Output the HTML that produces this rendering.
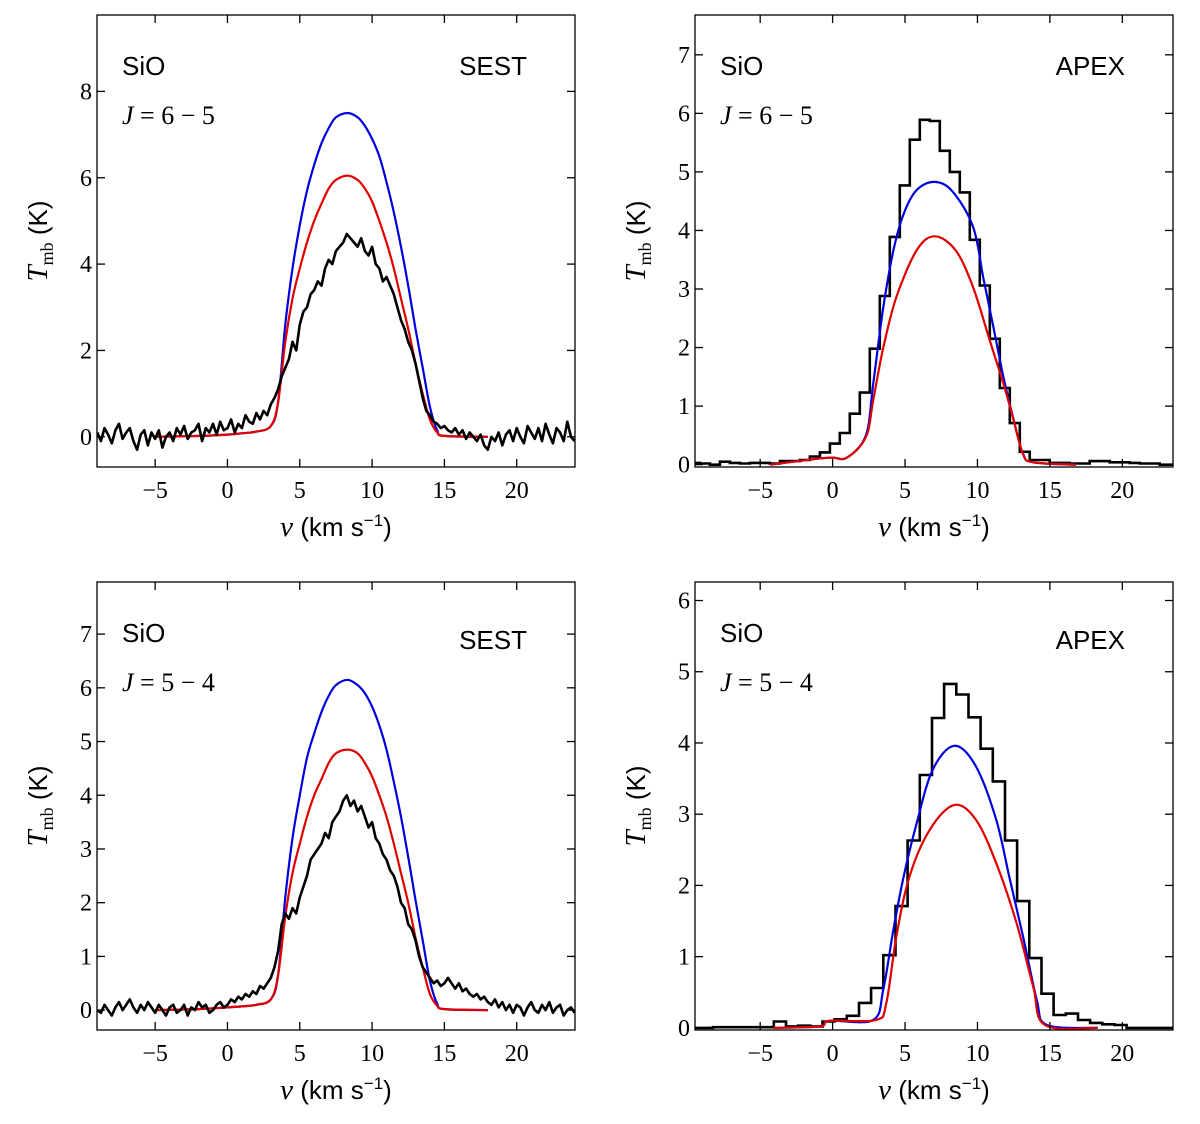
<!DOCTYPE html>
<html><head><meta charset="utf-8"><style>
body{margin:0;background:#fff}
svg{display:block}
.tl{font-family:"Liberation Serif",serif;font-size:24px;fill:#000}
.ss{font-family:"Liberation Sans",sans-serif;font-size:26px;fill:#000}
.it{font-family:"Liberation Serif",serif;font-size:26px;font-style:italic;fill:#000}
</style></head><body>
<svg id="fig" width="1200" height="1124" viewBox="0 0 1200 1124" xmlns="http://www.w3.org/2000/svg"></svg>
<script>
// ---- data arrays ----
const tlSpec = [0.1,-0.1,0.2,0.05,-0.15,0.15,0.3,-0.05,0.1,0.2,-0.1,-0.3,0.05,0.15,-0.2,0.1,-0.05,
0.15,-0.25,0.0,0.1,-0.1,0.2,0.05,0.25,-0.05,0.1,0.15,0.3,-0.1,0.2,0.1,0.3,0.05,0.35,0.15,0.2,
0.4,0.1,0.3,0.2,0.5,0.35,0.3,0.55,0.4,0.6,0.5,0.75,
0.9,1.1,1.4,1.6,1.8,2.2,2.0,2.6,2.9,3.0,3.3,3.4,
3.6,3.5,3.9,4.1,4.0,4.3,4.4,4.5,4.7,4.6,4.5,4.4,
4.6,4.3,4.2,4.4,4.0,3.9,3.6,3.7,3.5,3.3,3.0,2.7,
2.5,2.2,2.0,1.7,1.3,0.9,0.6,0.5,0.35,0.3,0.2,0.25,
0.15,0.1,0.2,0.05,0.15,-0.05,0.1,0.0,-0.1,0.05,-0.2,-0.3,
0.0,-0.1,0.1,-0.2,0.05,0.15,-0.1,0.2,0.0,-0.15,0.25,0.1,-0.05,0.2,-0.1,0.3,0.05,-0.15,0.2,0.1,-0.1,0.35,0.0,-0.1];
const blSpec = [0.0,-0.05,0.1,0.0,-0.1,0.05,0.15,0.0,0.1,0.2,0.05,-0.05,0.1,0.0,0.15,0.05,-0.05,0.1,0.0,-0.1,0.05,0.1,-0.05,0.0,0.1,-0.1,0.05,0.0,0.15,0.05,0.1,-0.05,0.0,0.1,0.15,0.05,0.1,
0.2,0.15,0.25,0.2,0.3,0.25,0.35,0.3,0.45,0.4,0.5,0.6,
0.8,1.1,1.6,1.8,1.7,1.9,1.8,2.1,2.3,2.5,2.8,2.9,
3.0,3.1,3.3,3.2,3.5,3.6,3.7,3.9,4.0,3.8,3.9,3.7,
3.8,3.6,3.4,3.5,3.2,3.1,2.9,2.8,2.6,2.5,2.3,2.0,
1.9,1.6,1.5,1.3,1.0,0.8,0.7,0.6,0.5,0.55,0.45,0.5,
0.6,0.5,0.4,0.5,0.35,0.4,0.3,0.25,0.3,0.2,0.25,0.15,
0.1,0.2,0.05,0.15,0.0,0.1,-0.05,0.1,0.05,-0.1,0.05,0.15,0.0,-0.05,0.1,0.0,0.15,-0.05,0.05,0.1,-0.1,0.0,0.05,-0.05];
const specStart = -9, specStep = 0.25;

const tlBlueV = [-5,-2,0,1,2,3,3.5,4,4.5,5,5.5,6,6.5,7,7.5,8.3,9,9.5,10,10.5,11,11.5,12,12.5,13,13.5,14,14.5,15,18];
const tlBlueT = [0,0.02,0.05,0.08,0.12,0.25,0.8,2.6,3.9,4.9,5.7,6.3,6.8,7.15,7.4,7.5,7.4,7.2,6.9,6.5,5.9,5.2,4.4,3.5,2.5,1.6,0.7,0.15,0.02,0];
const tlRedV = [-5,-2,0,1,2,3,3.5,4,4.5,5,5.5,6,6.5,7,7.5,8.3,9,9.5,10,10.5,11,11.5,12,12.5,13,13.5,14,14.5,15,18];
const tlRedT = [0,0.02,0.05,0.08,0.12,0.25,0.8,2.2,3.2,3.9,4.5,5.0,5.4,5.75,5.95,6.05,5.95,5.75,5.45,5.0,4.5,3.9,3.2,2.5,1.7,1.0,0.4,0.1,0.02,0];
const blBlueT = [0,0.02,0.05,0.07,0.1,0.2,0.65,2.1,3.2,4.0,4.7,5.15,5.55,5.85,6.05,6.15,6.05,5.9,5.65,5.3,4.85,4.25,3.6,2.85,2.05,1.3,0.55,0.12,0.02,0];
const blRedT = [0,0.02,0.05,0.07,0.1,0.2,0.65,1.75,2.55,3.1,3.6,4.0,4.3,4.6,4.78,4.85,4.78,4.6,4.35,4.0,3.6,3.1,2.55,2.0,1.35,0.8,0.3,0.08,0.02,0];

const trHist = [0.03,0.02,0.0,0.05,0.03,0.02,0.03,0.03,0.02,0.06,0.06,0.08,0.14,0.21,0.36,0.54,0.87,1.23,1.98,2.88,3.89,4.77,5.55,5.89,5.87,5.36,5.0,4.65,3.84,3.06,2.15,1.31,0.71,0.22,0.08,0.08,0.03,0.03,0.02,0.02,0.06,0.06,0.04,0.04,0.03,0.02,0.02,0.0,0.0];
const trHistStart = -9.85, trHistStep = 0.69;
const trBlueV = [-4.3,-1.1,0,1,2.3,2.8,3.5,4.2,4.9,5.8,7.05,8.3,9.7,10.4,11.1,11.8,12.5,13.15,13.85,16.8];
const trBlueT = [0,0.1,0.12,0.12,0.5,1.38,2.69,3.66,4.28,4.69,4.83,4.66,4.06,3.2,2.35,1.49,0.76,0.18,0.04,0];
const trRedV = [-4.3,-1.1,0,1,2.3,2.8,3.5,4.4,5.8,7.05,8.5,9.7,10.85,11.8,12.5,13.15,13.85,16.8];
const trRedT = [0,0.1,0.12,0.12,0.47,1.1,2.0,2.86,3.66,3.9,3.66,3.03,2.12,1.38,0.76,0.18,0.04,0];

const brHist = [0,0,0.01,0.01,0.01,0.01,0.01,0.09,0.02,0.03,0.02,0.09,0.12,0.17,0.35,0.56,1.02,1.71,2.63,3.55,4.35,4.83,4.68,4.36,3.92,3.46,2.63,1.78,0.98,0.48,0.18,0.2,0.11,0.07,0.05,0.04,0,0,0,0];
const brHistStart = -9.94, brHistStep = 0.84;
const brBlueV = [-4.1,-0.9,-0.2,2.8,3.5,4.2,4.9,5.8,6.9,8.4,9.9,11.3,12.2,13.15,14.1,14.8,18.3];
const brBlueT = [0,0.02,0.1,0.11,0.54,1.38,2.12,2.87,3.62,3.96,3.67,2.92,2.12,1.28,0.39,0.04,0];
const brRedV = [-4.1,-0.9,-0.2,3.0,3.7,4.4,5.3,6.7,8.4,9.9,11.3,12.7,13.85,14.65,18.3];
const brRedT = [0,0.02,0.1,0.11,0.34,1.28,2.12,2.78,3.13,2.92,2.31,1.47,0.58,0.04,0];

const xTicks = [-5,0,5,10,15,20];
const xTickLabels = ['\u22125','0','5','10','15','20'];

// ---- drawing ----
const NS='http://www.w3.org/2000/svg';
const svg=document.getElementById('fig');
function mk(tag,attrs,parent){const e=document.createElementNS(NS,tag);for(const k in attrs)e.setAttribute(k,attrs[k]);(parent||svg).appendChild(e);return e;}

function panel(name,box,xr,yr,yticks){
  const g=mk('g',{});
  
  
  const sx=v=>box.x0+(v-xr[0])/(xr[1]-xr[0])*(box.x1-box.x0);
  const sy=t=>box.y1-(t-yr[0])/(yr[1]-yr[0])*(box.y1-box.y0);
  const clipId='c'+name;
  const cp=mk('clipPath',{id:clipId},g);mk('rect',{x:box.x0,y:box.y0,width:box.x1-box.x0,height:box.y1-box.y0},cp);
  const plot=mk('g',{'clip-path':'url(#'+clipId+')'},g);
  return {g,sx,sy,plot,box,yticks};
}
function frame(p){
  const {g,sx,sy,box}=p;
  const fr=mk('rect',{x:box.x0,y:box.y0,width:box.x1-box.x0,height:box.y1-box.y0,fill:'none',stroke:'#000','stroke-width':1.3},g);
  
  
  xTicks.forEach((v,i)=>{
    const x=sx(v);
    mk('line',{x1:x,x2:x,y1:box.y1,y2:box.y1-8,stroke:'#000','stroke-width':1.3},g);
    mk('line',{x1:x,x2:x,y1:box.y0,y2:box.y0+8,stroke:'#000','stroke-width':1.3},g);
    const t=mk('text',{x:x,y:box.y1+31,'text-anchor':'middle',class:'tl'},g);t.textContent=xTickLabels[i];
    
    
  });
  p.yticks.forEach(v=>{
    const y=sy(v);
    mk('line',{x1:box.x0,x2:box.x0+8,y1:y,y2:y,stroke:'#000','stroke-width':1.3},g);
    mk('line',{x1:box.x1,x2:box.x1-8,y1:y,y2:y,stroke:'#000','stroke-width':1.3},g);
    const t=mk('text',{x:box.x0-5,y:y+8,'text-anchor':'end',class:'tl'},g);t.textContent=String(v);
    
    
  });
}
function smoothLine(p,vs,ts,color,w,nm){
  const P=vs.map((v,i)=>[p.sx(v),p.sy(ts[i])]);
  let d='M'+P[0][0].toFixed(1)+' '+P[0][1].toFixed(1);
  for(let i=0;i<P.length-1;i++){
    const p0=P[Math.max(0,i-1)],p1=P[i],p2=P[i+1],p3=P[Math.min(P.length-1,i+2)];
    const c1=[p1[0]+(p2[0]-p0[0])/6,p1[1]+(p2[1]-p0[1])/6];
    const c2=[p2[0]-(p3[0]-p1[0])/6,p2[1]-(p3[1]-p1[1])/6];
    d+='C'+c1[0].toFixed(1)+' '+c1[1].toFixed(1)+' '+c2[0].toFixed(1)+' '+c2[1].toFixed(1)+' '+p2[0].toFixed(1)+' '+p2[1].toFixed(1);
  }
  const e=mk('path',{d,fill:'none',stroke:color,'stroke-width':w,'stroke-linejoin':'round'},p.plot);
  
  
}
function spec(p,arr,start,step,nm){
  const d=arr.map((t,i)=>(i?'L':'M')+p.sx(start+i*step).toFixed(1)+' '+p.sy(t).toFixed(1)).join('');
  const e=mk('path',{d,fill:'none',stroke:'#000','stroke-width':2.6,'stroke-linejoin':'round'},p.plot);
  
  
}
function hist(p,arr,start,step,nm){
  let d='';
  arr.forEach((t,i)=>{const a=p.sx(start+i*step),b=p.sx(start+(i+1)*step),y=p.sy(t);d+=(i?'L':'M')+a.toFixed(1)+' '+y.toFixed(1)+'L'+b.toFixed(1)+' '+y.toFixed(1);});
  const e=mk('path',{d,fill:'none',stroke:'#000','stroke-width':2.6},p.plot);
  
  
}
function labels(p,jtxt,tel,yoff){
  const {g,box}=p;
  const a=mk('text',{x:box.x0+25,y:box.y0+60,class:'ss'},g);a.textContent='SiO';
  
  
  const j=mk('text',{x:box.x0+25,y:box.y0+109,class:'it'},g);j.innerHTML='J<tspan font-style="normal"> = '+jtxt+'</tspan>';
  
  
  const b=mk('text',{x:box.x1-48,y:box.y0+60+yoff,'text-anchor':'end',class:'ss'},g);b.textContent=tel;
  
  
  const cy=(box.y0+box.y1)/2;
  const yl=mk('text',{x:box.x0-50,y:cy,transform:'rotate(-90 '+(box.x0-50)+' '+cy+')','text-anchor':'middle',class:'ss'},g);
  yl.innerHTML='<tspan font-family="Liberation Serif" font-style="italic" font-size="29">T</tspan><tspan font-family="Liberation Serif" font-size="18" dy="6">mb</tspan><tspan dy="-6"> (K)</tspan>';
  
  
  const xl=mk('text',{x:(box.x0+box.x1)/2,y:box.y1+69,'text-anchor':'middle',class:'ss'},g);
  xl.innerHTML='<tspan font-family="Liberation Serif" font-style="italic" font-size="29">v</tspan> (km s<tspan font-size="17" dy="-10">\u22121</tspan><tspan dy="10">)</tspan>';
  
  
}

// top-left SEST 6-5
let p=panel('panel-sest-6-5',{x0:97,x1:575,y0:15,y1:467},[-9.02,24.03],[-0.7,9.77],[0,2,4,6,8]);
smoothLine(p,tlBlueV,tlBlueT,'#0000dd',2.2,'blue-model-line');
smoothLine(p,tlRedV,tlRedT,'#e00000',2.2,'red-model-line');
spec(p,tlSpec,specStart,specStep,'observed-spectrum');
frame(p);labels(p,'6 \u2212 5','SEST',0);

// top-right APEX 6-5
p=panel('panel-apex-6-5',{x0:695,x1:1173,y0:15,y1:467},[-9.5,23.5],[-0.04,7.68],[0,1,2,3,4,5,6,7]);
hist(p,trHist,trHistStart,trHistStep,'observed-histogram');
smoothLine(p,trBlueV,trBlueT,'#0000dd',2.2,'blue-model-line');
smoothLine(p,trRedV,trRedT,'#e00000',2.2,'red-model-line');
frame(p);labels(p,'6 \u2212 5','APEX',0);

// bottom-left SEST 5-4
p=panel('panel-sest-5-4',{x0:97,x1:575,y0:582,y1:1030},[-9.02,24.03],[-0.37,7.97],[0,1,2,3,4,5,6,7]);
smoothLine(p,tlBlueV,blBlueT,'#0000dd',2.2,'blue-model-line');
smoothLine(p,tlRedV,blRedT,'#e00000',2.2,'red-model-line');
spec(p,blSpec,specStart,specStep,'observed-spectrum');
frame(p);labels(p,'5 \u2212 4','SEST',7);

// bottom-right APEX 5-4
p=panel('panel-apex-5-4',{x0:695,x1:1173,y0:582,y1:1030},[-9.5,23.5],[-0.03,6.26],[0,1,2,3,4,5,6]);
hist(p,brHist,brHistStart,brHistStep,'observed-histogram');
smoothLine(p,brBlueV,brBlueT,'#0000dd',2.2,'blue-model-line');
smoothLine(p,brRedV,brRedT,'#e00000',2.2,'red-model-line');
frame(p);labels(p,'5 \u2212 4','APEX',7);
</script>
</body></html>
